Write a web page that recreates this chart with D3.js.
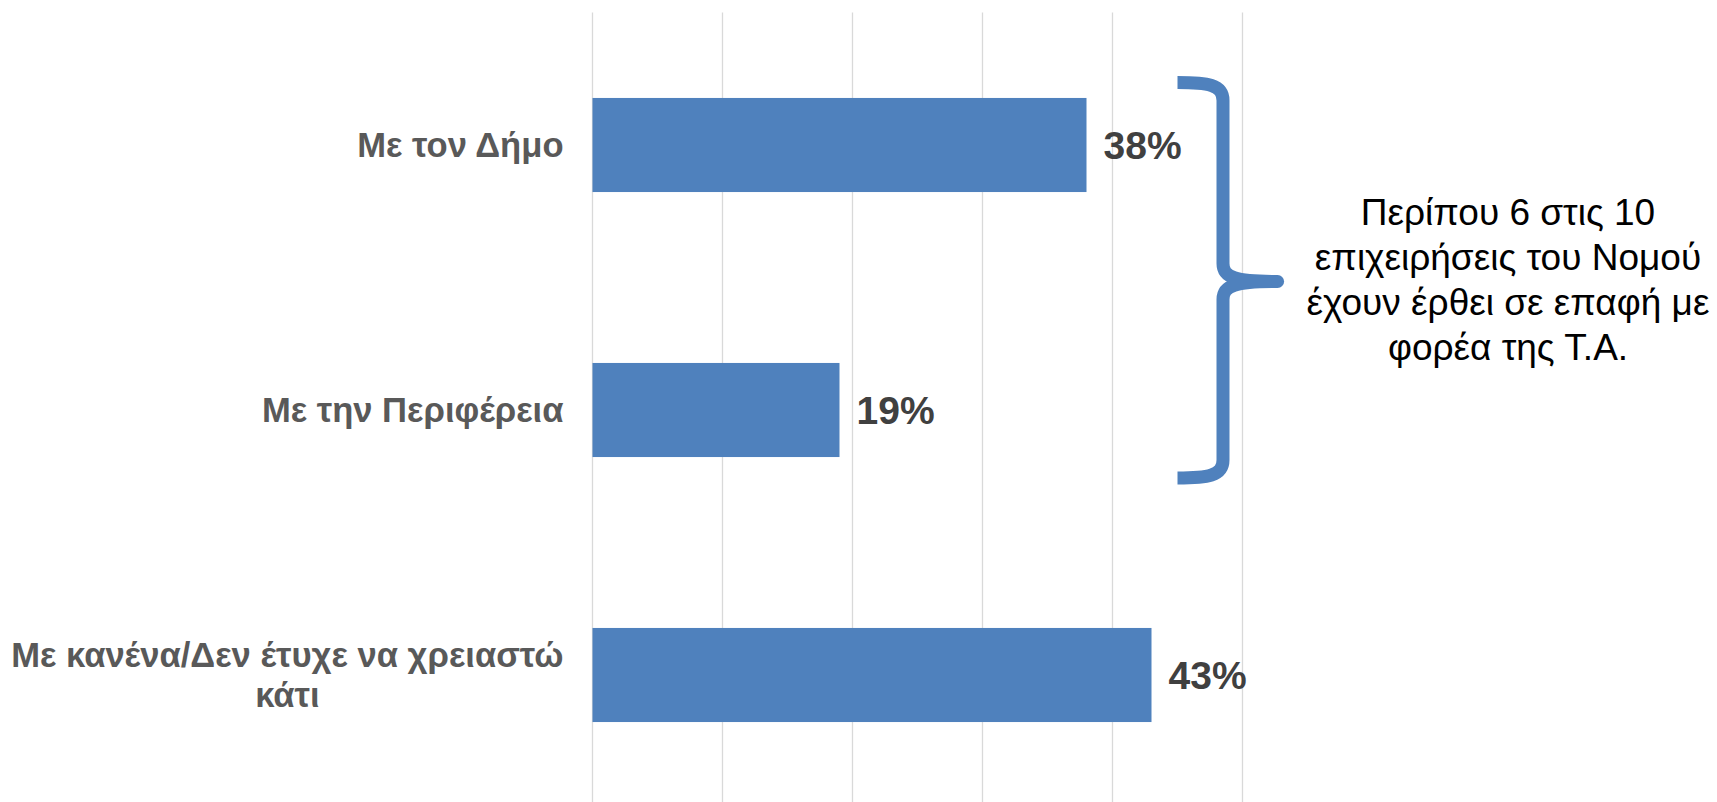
<!DOCTYPE html>
<html>
<head>
<meta charset="utf-8">
<script src="https://cdn.jsdelivr.net/npm/d3@7"></script>
<style>
  body { margin: 0; background: #fff; }
  svg { display: block; font-family: "Liberation Sans", Arial, sans-serif; }
</style>
</head>
<body>
<div class="chart"></div>
<script>
// data
var categories = ["Με τον Δήμο", "Με την Περιφέρεια", "Με κανένα/Δεν έτυχε να χρειαστώ κάτι"];
var labelLines = [["Με τον Δήμο"], ["Με την Περιφέρεια"], ["Με κανένα/Δεν έτυχε να χρειαστώ", "κάτι"]];
var values = [0.38, 0.19, 0.43];
var gridTicks = [0, 0.1, 0.2, 0.3, 0.4, 0.5];
var noteLines = ["Περίπου 6 στις 10", "επιχειρήσεις του Νομού", "έχουν έρθει σε επαφή με", "φορέα της Τ.Α."];

var W = 1717, H = 802;
var margin = {top: 12.5, right: 474.5, bottom: 0, left: 592.5};
var width = W - margin.left - margin.right;   // 650 -> 0..50%
var height = 795;

var svg = d3.select('.chart')
  .append('svg')
    .attr('width', W)
    .attr('height', H)
  .append('g')
    .attr('transform', `translate(${margin.left}, ${margin.top})`);

var x = d3.scaleLinear().domain([0, 0.5]).range([0, width]);
var y = d3.scaleBand().domain(categories).range([0, height]).paddingInner(0.645).paddingOuter(0.3225);

// gridlines
svg.selectAll('line.grid')
  .data(gridTicks)
  .enter()
  .append('line')
    .attr('class', 'grid')
    .attr('x1', d => x(d)).attr('x2', d => x(d))
    .attr('y1', 0).attr('y2', H)
    .attr('stroke', '#d9d9d9')
    .attr('stroke-width', 1.3);

// bars
svg.selectAll('rect.bar')
  .data(values)
  .enter()
  .append('rect')
    .attr('class', 'bar')
    .attr('x', x(0))
    .attr('y', (d, i) => y(categories[i]))
    .attr('width', d => x(d) - x(0))
    .attr('height', y.bandwidth())
    .attr('fill', '#4f81bd');

// value labels
svg.selectAll('text.value')
  .data(values)
  .enter()
  .append('text')
    .attr('class', 'value')
    .attr('x', d => x(d) + 17)
    .attr('y', (d, i) => y(categories[i]) + y.bandwidth() / 2)
    .attr('dy', '0.37em')
    .attr('font-size', 39)
    .attr('font-weight', 'bold')
    .attr('fill', '#404040')
    .text(d => Math.round(d * 100) + '%');

// category labels
var lineH = 40;
var cat = svg.selectAll('text.cat')
  .data(labelLines)
  .enter()
  .append('text')
    .attr('class', 'cat')
    .attr('font-size', 34.6)
    .attr('font-weight', 'bold')
    .attr('fill', '#595959')
    .attr('text-anchor', 'middle')
    .attr('transform', (d, i) => `translate(0, ${y(categories[i]) + y.bandwidth() / 2})`);

cat.each(function(lines) {
  var t = d3.select(this);
  var off = -(lines.length - 1) * lineH / 2;
  lines.forEach(function(l, k) {
    t.append('tspan')
      .attr('x', 0)
      .attr('y', off + k * lineH)
      .attr('dy', '0.35em')
      .text(l);
  });
});
// right-align block, centre lines inside it (as in the original)
cat.each(function() {
  var t = d3.select(this);
  var w = d3.max(t.selectAll('tspan').nodes(), n => n.getComputedTextLength());
  t.selectAll('tspan').attr('x', -29 - w / 2);
});

// brace grouping first two bars
var bx0 = x(0.45), bx1 = x(0.485), bx2 = x(0.527);
var braceTop = y(categories[0]) - 15.5;
var braceMid = (y(categories[0]) + y(categories[1]) + y.bandwidth()) / 2 + 4;
var braceBot = y(categories[1]) + y.bandwidth() + 21;

var brace = d3.path();
brace.moveTo(bx0, braceTop);
brace.bezierCurveTo(bx0 + 30, braceTop, bx1, braceTop + 2, bx1, braceTop + 18);
brace.lineTo(bx1, braceMid - 18);
brace.bezierCurveTo(bx1, braceMid - 4, bx1 + 12, braceMid, bx2, braceMid);
brace.moveTo(bx2, braceMid);
brace.bezierCurveTo(bx1 + 12, braceMid, bx1, braceMid + 4, bx1, braceMid + 18);
brace.lineTo(bx1, braceBot - 18);
brace.bezierCurveTo(bx1, braceBot - 2, bx0 + 30, braceBot, bx0, braceBot);

svg.append('path')
  .attr('d', brace.toString())
  .attr('fill', 'none')
  .attr('stroke', '#4f81bd')
  .attr('stroke-width', 13)
  .attr('stroke-linecap', 'butt')
  .attr('stroke-linejoin', 'round');

svg.append('circle')
  .attr('cx', bx2).attr('cy', braceMid).attr('r', 6.5)
  .attr('fill', '#4f81bd');

// annotation text
var noteX = 1508 - margin.left;
svg.append('text')
    .attr('text-anchor', 'middle')
    .attr('font-size', 37)
    .attr('fill', '#000')
  .selectAll('tspan')
  .data(noteLines)
  .enter()
  .append('tspan')
    .attr('x', noteX)
    .attr('y', (d, i) => 225 - margin.top + i * 45)
    .text(d => d);
</script>
</body>
</html>
